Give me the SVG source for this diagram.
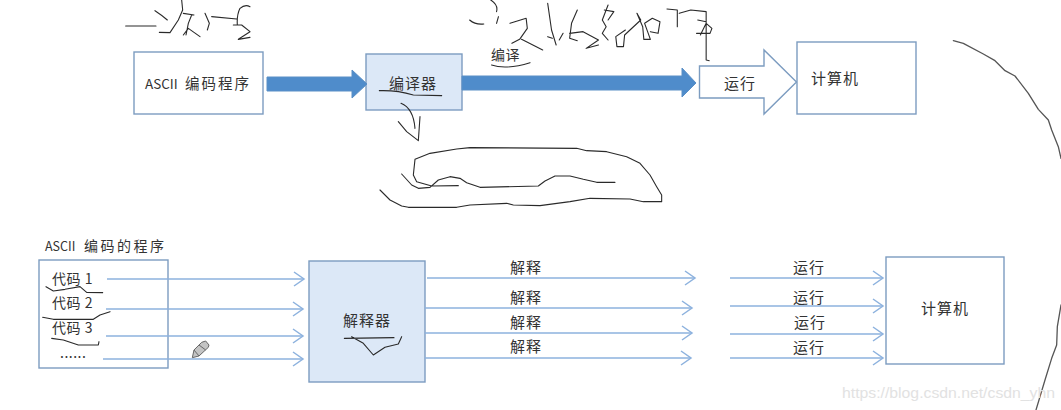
<svg xmlns="http://www.w3.org/2000/svg" width="1061" height="410" viewBox="0 0 1061 410">
<style>
text{font-family:"Noto Sans CJK SC","Liberation Sans",sans-serif;font-size:15px;letter-spacing:1px;fill:#333}
.sm{font-size:14px;letter-spacing:0.5px}
.box{fill:#fff;stroke:#7c9cc0;stroke-width:1.4}
.blue{fill:#dce8f7;stroke:#7c9cc0;stroke-width:1.4}
.fat{fill:#4f8ccb;stroke:#5a8fc6;stroke-width:1}
.ln{fill:none;stroke:#8db2de;stroke-width:1.5;marker-end:url(#a)}
.ink{fill:none;stroke:#2a2a2a;stroke-width:1.1;stroke-linejoin:round;stroke-linecap:round;vector-effect:non-scaling-stroke}
.curve{stroke:#555;stroke-width:1.3}
.mark{font-family:"Liberation Sans",sans-serif;font-size:15.500px;letter-spacing:0;fill:#e2e2e2}
</style>
<defs><marker id="a" markerUnits="userSpaceOnUse" markerWidth="14" markerHeight="18" refX="11" refY="8" orient="auto" overflow="visible"><path d="M1 1L11 8L1 15" fill="none" stroke="#8db2de" stroke-width="1.5"/></marker></defs>
<rect width="1061" height="410" fill="#fff"/>
<g id="node-ascii"><rect class="box" x="134" y="52" width="129" height="62"/><text class="sm" x="145" y="89"><tspan style="font-size:13.500px;letter-spacing:0">ASCII </tspan><tspan x="185" style="font-size:14.500px;letter-spacing:2px">编码程序</tspan></text></g>
<g id="node-compiler"><rect class="blue" x="366" y="54" width="96" height="56"/><text x="389" y="89">编译器</text></g>
<g id="node-run"><path class="box" d="M699.500 66H764V50L796.500 82L764 114V98H699.500Z"/><text x="724" y="89">运行</text></g>
<g id="node-computer-top"><rect class="box" x="797" y="42" width="119" height="72"/><text x="811" y="84">计算机</text></g>
<g id="label-compile"><text class="sm" x="491" y="60">编译</text></g>
<g id="node-program"><text class="sm" x="45" y="251"><tspan style="font-size:12.500px;letter-spacing:0">ASCII </tspan><tspan x="84" style="font-size:14px;letter-spacing:2.500px">编码的程序</tspan></text><rect class="box" x="39" y="260" width="129" height="108"/>
<text class="sm" x="52" y="284">代码 1</text><text class="sm" x="52" y="308">代码 2</text><text class="sm" x="52" y="333">代码 3</text><text class="sm" x="60" y="358">......</text></g>
<g id="node-interpreter"><rect class="blue" x="309" y="261" width="116" height="121"/><text x="343" y="326">解释器</text></g>
<g id="node-computer-bottom"><rect class="box" x="886" y="257" width="118" height="107"/><text x="921" y="314">计算机</text></g>
<g id="connectors">
<path class="fat" d="M267 77H352V70L367 84L352 98V91H267Z"/>
<path class="fat" d="M462 76H682V68L696 83L682 97V90H462Z"/>
<path class="ln" d="M107 279H304"/><path class="ln" d="M106 309H303"/><path class="ln" d="M106 336H303"/><path class="ln" d="M103 359H303"/>
<path class="ln" d="M427 278H695"/><path class="ln" d="M425 308H692"/><path class="ln" d="M425 333H692"/><path class="ln" d="M425 358H691"/>
<path class="ln" d="M730 278H883"/><path class="ln" d="M730 306H883"/><path class="ln" d="M730 334H883"/><path class="ln" d="M730 358H883"/>
</g>
<g id="labels-interpret"><text x="510" y="273">解释</text><text x="510" y="303">解释</text><text x="510" y="328">解释</text><text x="510" y="352">解释</text></g>
<g id="labels-run"><text x="793" y="273">运行</text><text x="793" y="303">运行</text><text x="794" y="328">运行</text><text x="793" y="353">运行</text></g>
<g id="pencil" transform="translate(30 230) scale(.33333)"><path d="M515 337L527 333L537 345L535 352L507 378L487 383L492 360Z" fill="#c4c4c4" stroke="#666" stroke-width="3"/><path d="M507 345L527 360M492 360L507 378" fill="none" stroke="#666" stroke-width="3"/></g>
<g id="ink-top-left" transform="translate(120 0) scale(.33333)"><path class="ink" d="M17 78L108 78M105 32Q125 45 142 60M185 0L188 30L175 60L150 98L118 97M190 40L222 45M215 45L205 70L198 105M190 105L205 85L240 110M255 40L268 70L262 90M275 50L350 57M390 20Q375 12 360 25Q350 45 352 75M340 75L365 75L390 95L355 118L390 112M778 272Q830 270 880 285L965 287M843 310Q880 325 885 385M900 350L895 422L860 395L835 365"/></g>
<g id="ink-top-right" transform="translate(460 0) scale(.38462 .33333)"><path class="ink" d="M25 60Q40 75 62 72M80 0Q100 15 95 35M95 70L100 50M130 70L172 55L175 85L155 118L135 130M160 118L215 150M228 10L238 90L250 135M228 110L240 115M268 100L258 120M305 30L290 70L285 115L305 122M285 100L320 95L360 120L328 145L360 135M385 15L370 60L380 80L370 100L385 120M375 30L400 35L385 60M430 90L405 110L408 140L425 140L428 105L470 60L460 40L475 80L478 118L495 118L480 70L500 55L520 65L515 100L495 95M538 27L565 30L565 80M570 40L600 30L640 35L640 180L648 182M618 60L640 65M615 100L650 100L655 85L640 70L625 105M82 195Q120 210 182 188"/></g>
<g id="ink-scribble" transform="translate(370 100) scale(.33333)"><path class="ink" d="M135 178L180 160L260 147L300 143L620 145L650 152L710 155L770 170L810 190L840 225L860 260L875 285L875 305L820 305L780 297L660 295L600 305L510 317L430 315L410 310L300 315L260 322L115 322L95 318L60 300L30 270M135 178L130 225L140 245L185 258L265 257M95 222L125 255L145 265L180 262L205 240L240 230L270 235L290 248L330 262L505 258L525 243L555 228L600 228L640 238L680 247L735 247"/></g>
<g id="ink-bottom" transform="translate(30 230) scale(.33333)"><path class="ink" d="M48 170L70 183L105 178L150 170L170 187L218 188M38 262L70 268L190 268L210 255L240 245M65 325L100 330L145 345L205 345L207 335M943 325L1092 323M965 320L1000 340L1030 375L1065 352L1105 342L1115 320"/></g>
<g id="ink-curve" transform="translate(940 30) scale(.33333)"><path class="ink curve" d="M40 32L70 40L130 72L165 92L195 122L225 138L265 190L295 238L325 270L335 300L355 350L363 385M363 825L352 890L350 945L335 985L315 1050L288 1140"/></g>
<text class="mark" x="842" y="398" textLength="213" lengthAdjust="spacingAndGlyphs">https://blog.csdn.net/csdn_yhn</text>
</svg>
